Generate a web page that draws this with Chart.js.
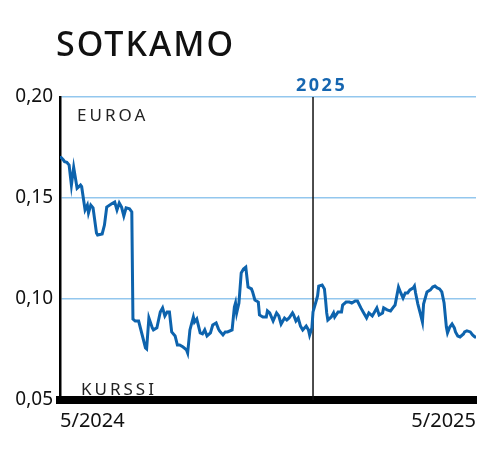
<!DOCTYPE html>
<html>
<head>
<meta charset="utf-8">
<script src="https://cdn.jsdelivr.net/npm/chart.js@4.4.1/dist/chart.umd.min.js"></script>
<style>
  html, body { margin: 0; padding: 0; background: #fff; }
  #wrap { width: 500px; height: 451px; position: relative; }
</style>
</head>
<body>
<div id="wrap"><canvas id="chart" width="500" height="451"></canvas></div>
<script>
// päivää alkaen 5/2024
const days = [
    0, 1, 3, 4, 6, 8, 10, 12, 15, 18,
    19, 22, 24, 25, 27, 29, 32, 33, 37, 39,
    41, 45, 48, 50, 52, 54, 56, 58, 61, 63,
    64, 66, 69, 75, 76, 78, 81, 82, 85, 88,
    90, 92, 94, 96, 98, 101, 103, 105, 108, 111,
    112, 114, 117, 118, 120, 123, 125, 127, 129, 132,
    134, 137, 139, 140, 143, 145, 147, 151, 153, 154,
    155, 157, 159, 161, 163, 165, 168, 169, 171, 174,
    175, 178, 181, 182, 184, 187, 190, 192, 194, 197,
    199, 201, 204, 205, 207, 209, 211, 213, 216, 218,
    219, 221, 222, 225, 226, 227, 230, 232, 233, 234,
    235, 238, 240, 241, 244, 247, 248, 251, 254, 256,
    259, 261, 264, 266, 269, 271, 274, 276, 278, 280,
    283, 284, 287, 290, 292, 294, 296, 297, 299, 301,
    303, 305, 307, 310, 311, 312, 314, 316, 318, 319,
    322, 325, 327, 329, 331, 333, 335, 337, 339, 340,
    342, 344, 346, 347, 349, 351, 354, 355, 357, 360,
    362, 364, 365
];

// kurssi, euroa
const prices = [
    0.1700, 0.1700, 0.1688, 0.1680, 0.1677, 0.1663, 0.1564, 0.1652, 0.1548, 0.1564,
    0.1556, 0.1441, 0.1465, 0.1426, 0.1465, 0.1451, 0.1327, 0.1317, 0.1322, 0.1366,
    0.1455, 0.1470, 0.1480, 0.1441, 0.1475, 0.1455, 0.1411, 0.1451, 0.1446, 0.1431,
    0.0901, 0.0891, 0.0891, 0.0758, 0.0753, 0.0906, 0.0857, 0.0847, 0.0857, 0.0936,
    0.0956, 0.0916, 0.0936, 0.0936, 0.0837, 0.0817, 0.0772, 0.0772, 0.0762, 0.0748,
    0.0733, 0.0847, 0.0911, 0.0886, 0.0901, 0.0832, 0.0827, 0.0847, 0.0817, 0.0832,
    0.0871, 0.0881, 0.0852, 0.0842, 0.0822, 0.0837, 0.0837, 0.0847, 0.0960, 0.0980,
    0.0931, 0.0980, 0.1129, 0.1149, 0.1158, 0.1059, 0.1050, 0.1035, 0.0995, 0.0985,
    0.0921, 0.0911, 0.0911, 0.0941, 0.0931, 0.0891, 0.0931, 0.0916, 0.0876, 0.0906,
    0.0896, 0.0906, 0.0931, 0.0921, 0.0891, 0.0906, 0.0866, 0.0847, 0.0866, 0.0847,
    0.0822, 0.0857, 0.0936, 0.0995, 0.1015, 0.1064, 0.1069, 0.1050, 0.0995, 0.0931,
    0.0896, 0.0911, 0.0931, 0.0911, 0.0936, 0.0936, 0.0970, 0.0985, 0.0985, 0.0980,
    0.0990, 0.0990, 0.0956, 0.0936, 0.0906, 0.0931, 0.0916, 0.0936, 0.0956, 0.0921,
    0.0931, 0.0956, 0.0946, 0.0941, 0.0956, 0.0970, 0.1030, 0.1059, 0.1030, 0.1005,
    0.1030, 0.1030, 0.1045, 0.1055, 0.1064, 0.1030, 0.0975, 0.0931, 0.0886, 0.0975,
    0.1035, 0.1045, 0.1059, 0.1064, 0.1055, 0.1050, 0.1035, 0.0980, 0.0861, 0.0832,
    0.0861, 0.0876, 0.0857, 0.0837, 0.0817, 0.0812, 0.0827, 0.0837, 0.0842, 0.0837,
    0.0822, 0.0812, 0.0812
];

const xTicks = [0, 365];
const xTickLabels = ['5/2024', '5/2025'];
const yTicks = [0.05, 0.10, 0.15, 0.20];
const yearMark = { day: 222, label: '2025' };

const FONT = '"Noto Sans", Arial, sans-serif';
const lineColor = '#0d63ad';
const gridColor = '#93c7ee';

const points = days.map((d, i) => ({ x: d, y: prices[i] }));

// otsikko ja tekstit
const textPlugin = {
    id: 'texts',
    beforeDatasetsDraw(chart) {
        const ctx = chart.ctx;
        const x = chart.scales.x;
        const area = chart.chartArea;
        const px = x.getPixelForValue(yearMark.day);
        ctx.save();
        ctx.strokeStyle = '#111';
        ctx.lineWidth = 1.5;
        ctx.beginPath();
        ctx.moveTo(px, area.top);
        ctx.lineTo(px, area.bottom);
        ctx.stroke();
        ctx.restore();
    },
    afterDraw(chart) {
        const ctx = chart.ctx;
        const x = chart.scales.x;
        const px = x.getPixelForValue(yearMark.day);
        ctx.save();
        ctx.textBaseline = 'alphabetic';
        ctx.textAlign = 'left';

        ctx.fillStyle = '#111';
        ctx.font = '500 34px ' + FONT;
        ctx.letterSpacing = '2px';
        ctx.fillText('SOTKAMO', 56, 56);

        ctx.fillStyle = '#1666b0';
        ctx.font = 'bold 18px ' + FONT;
        ctx.letterSpacing = '2.5px';
        ctx.fillText(yearMark.label, px - 17, 91);

        ctx.fillStyle = '#222';
        ctx.font = '17px ' + FONT;
        ctx.letterSpacing = '3px';
        ctx.fillText('EUROA', 77, 121);
        ctx.fillText('KURSSI', 81, 395);
        ctx.restore();
    }
};

new Chart(document.getElementById('chart'), {
    type: 'line',
    data: {
        datasets: [{
            data: points,
            borderColor: lineColor,
            borderWidth: 3,
            pointRadius: 0,
            tension: 0,
            fill: false
        }]
    },
    options: {
        responsive: false,
        animation: false,
        layout: { padding: { top: 97, right: 24, left: 0, bottom: 0 } },
        plugins: {
            legend: { display: false },
            tooltip: { enabled: false }
        },
        scales: {
            x: {
                type: 'linear',
                min: 0,
                max: 365,
                afterFit: (scale) => { scale.height = 51; },
                afterBuildTicks: (scale) => { scale.ticks = xTicks.map(v => ({ value: v })); },
                grid: { display: false, drawTicks: false },
                border: { display: true, color: '#000', width: 8 },
                ticks: {
                    align: 'inner',
                    padding: 9,
                    color: '#111',
                    font: { family: FONT, size: 20 },
                    maxRotation: 0,
                    callback: (v) => xTickLabels[xTicks.indexOf(v)]
                }
            },
            y: {
                min: 0.05,
                max: 0.20,
                afterFit: (scale) => { scale.width = 60; },
                afterBuildTicks: (scale) => { scale.ticks = yTicks.map(v => ({ value: v })); },
                grid: {
                    drawTicks: false,
                    color: (c) => c.tick && c.tick.value === 0.05 ? 'rgba(0,0,0,0)' : gridColor,
                    lineWidth: 1.5
                },
                border: { display: true, color: '#000', width: 2.5 },
                ticks: {
                    padding: 7,
                    color: '#111',
                    font: { family: FONT, size: 19 },
                    callback: (v) => v.toFixed(2).replace('.', ',')
                }
            }
        }
    },
    plugins: [textPlugin]
});
</script>
</body>
</html>
